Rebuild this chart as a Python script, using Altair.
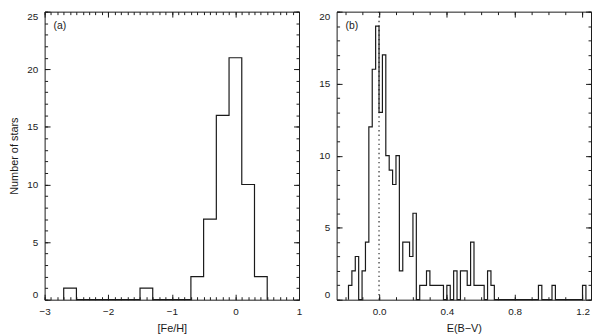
import altair as alt
import numpy as np
import pandas as pd

# ---------------- data ----------------
# Panel (a): [Fe/H] histogram (bin width 0.2, first bin starts at -2.7)
feh_first_edge = -2.7
feh_bin_width = 0.2
feh_counts = [1, 0, 0, 0, 0, 0, 1, 0, 0, 0, 2, 7, 16, 21, 10, 2]

# Panel (b): E(B-V) histogram (bin width 0.02, first bin starts at -0.18)
ebv_first_edge = -0.18
ebv_bin_width = 0.02
ebv_counts = [1, 2, 3, 0, 2, 4, 12, 16, 19, 13, 17, 10, 9, 8, 10, 2, 4, 4, 3, 6,
              0, 1, 1, 2, 1, 1, 1, 1, 0, 1, 0, 2, 0, 2, 2, 1, 4, 1, 1, 1,
              0, 2, 1,
              0, 0, 0, 0, 0, 0, 0, 0, 0, 0, 0, 0, 0,
              1, 0, 0, 0, 1,
              0, 0, 0, 0, 0, 0, 0, 0,
              1]
ebv_reference = [0.0]

# axis ranges and tick labels
feh_domain = [-3, 1]
ebv_domain = [-0.25, 1.25]
feh_major = [-3, -2, -1, 0, 1]
ebv_major = [0.0, 0.4, 0.8, 1.2]
count_major_a = [0, 5, 10, 15, 20, 25]
count_major_b = [0, 5, 10, 15, 20]
feh_minor = np.round(np.arange(-3.0, 1.0001, 0.1), 3).tolist()
ebv_minor = np.round(np.arange(-0.2, 1.2001, 0.1), 3).tolist()
count_minor_a = list(range(0, 26))
count_minor_b = list(range(0, 21))

FONT = "Liberation Sans"
INK = "#1a1a1a"
W, H = 257, 291


def outline(first_edge, width, counts):
    rows = [{"i": 0, "x": round(first_edge, 4), "n": 0}]
    k = 1
    for j, c in enumerate(counts):
        left = first_edge + j * width
        right = left + width
        rows.append({"i": k, "x": round(left, 4), "n": c}); k += 1
        rows.append({"i": k, "x": round(right, 4), "n": c}); k += 1
    rows.append({"i": k, "x": round(first_edge + len(counts) * width, 4), "n": 0})
    return pd.DataFrame(rows)


def tick_axis(orient, vals, size):
    return alt.Axis(orient=orient, values=vals, labels=False, ticks=True,
                    tickSize=size, offset=-size, domain=False, grid=False,
                    title=None)


def panel(df, xdom, ydom, xmajor, xminor, ymajor, yminor, xtitle, ytitle,
          xfmt, label, ref=None):
    xs = alt.Scale(domain=xdom, nice=False, zero=False)
    ys = alt.Scale(domain=ydom, nice=False, zero=False)
    base = alt.Chart(df)
    hist = base.mark_line(color=INK, strokeWidth=1.2).encode(
        x=alt.X("x:Q", scale=xs,
                axis=alt.Axis(orient="bottom", values=xmajor, format=xfmt,
                              ticks=False, domain=False, grid=False,
                              labelFlush=False, labelPadding=6.5,
                              title=xtitle, titlePadding=7)),
        y=alt.Y("n:Q", scale=ys,
                axis=alt.Axis(orient="left", values=ymajor, format="d",
                              ticks=False, domain=False, grid=False,
                              labelFlush=True, labelPadding=7,
                              title=ytitle, titlePadding=7)),
        order="i:Q",
    )
    ghost = base.mark_line(strokeOpacity=0)
    layers = [hist]
    for xo, yo, xv, yv, sz in [
        ("bottom", "left", xmajor, ymajor, 5.5),
        ("bottom", "left", xminor, yminor, 3),
        ("top", "right", xmajor, ymajor, 5.5),
        ("top", "right", xminor, yminor, 3),
    ]:
        layers.append(ghost.encode(
            x=alt.X("x:Q", scale=xs, axis=tick_axis(xo, xv, sz)),
            y=alt.Y("n:Q", scale=ys, axis=tick_axis(yo, yv, sz)),
            order="i:Q",
        ))
    if ref is not None:
        layers.append(
            alt.Chart(pd.DataFrame({"x": ref})).mark_rule(
                color=INK, strokeWidth=1.1, strokeDash=[1.4, 3.2]
            ).encode(x=alt.X("x:Q", scale=xs, axis=None))
        )
    layers.append(
        alt.Chart(pd.DataFrame({"t": [label]})).mark_text(
            align="left", baseline="middle", font=FONT, fontSize=10.5,
            color=INK
        ).encode(x=alt.value(9), y=alt.value(15), text="t:N")
    )
    return alt.layer(*layers).resolve_axis(
        x="independent", y="independent"
    ).properties(width=W, height=H)


pa = panel(outline(feh_first_edge, feh_bin_width, feh_counts), feh_domain,
           [0, 25], feh_major, feh_minor, count_major_a, count_minor_a,
           "[Fe/H]", "Number of stars", "d", "(a)")
pb = panel(outline(ebv_first_edge, ebv_bin_width, ebv_counts), ebv_domain,
           [0, 20], ebv_major, ebv_minor, count_major_b, count_minor_b,
           "E(B\u2212V)", None, ".1f", "(b)", ref=ebv_reference)

chart = alt.hconcat(pa, pb, spacing=38, bounds="flush", padding=0).configure_view(
    stroke=INK, strokeWidth=1
).configure_axis(
    labelFont=FONT, titleFont=FONT, labelFontSize=10, titleFontSize=11,
    labelColor=INK, titleColor=INK, titleFontWeight="normal",
    tickColor=INK, tickWidth=1, grid=False, domain=False
)

chart.save("out.html", embed_options={"renderer": "svg", "actions": False})
